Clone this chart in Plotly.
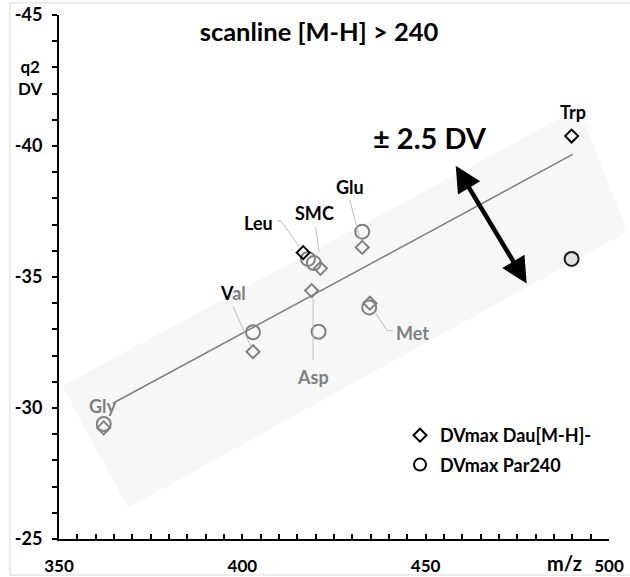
import plotly.graph_objects as go

# ---------------- data ----------------
amino = ["Gly", "Val", "Asp", "Leu", "SMC", "Glu", "Met", "Trp"]
mz_dau = [362.2, 402.9, 418.9, 416.6, 421.3, 432.7, 434.8, 489.8]
dv_dau = [-29.24, -32.15, -34.48, -35.93, -35.33, -36.13, -34.00, -40.38]
mz_par = [362.2, 402.9, 420.8, 417.9, 419.5, 432.7, 434.6, 489.8]
dv_par = [-29.39, -32.89, -32.91, -35.69, -35.53, -36.73, -33.84, -35.69]

trend_x = [364.7, 490.1]
trend_y = [-30.18, -39.68]

x_ticks = [350, 400, 450, 500]
x_tick_text = ["350", "400", "450", "500"]
y_ticks = [-45, -40, -35, -30, -25]
y_tick_text = ["-45", "-40", "-35", "-30", "-25"]

# ---------------- styles ----------------
GRAY = "#808080"
FONT = "Lato"
dau_line = [GRAY, GRAY, GRAY, "#000000", GRAY, GRAY, GRAY, "#000000"]
par_line = [GRAY] * 7 + ["#1a1a1a"]
par_fill = ["rgba(0,0,0,0)"] * 7 + ["#e0e0e0"]

XR = [350, 500]
YR = [-25, -45]


def to_paper(x, y):
    return (x - XR[0]) / (XR[1] - XR[0]), (y - YR[0]) / (YR[1] - YR[0])


fig = go.Figure()

fig.add_trace(go.Scatter(x=trend_x, y=trend_y, mode="lines",
                         line=dict(color="#7f7f7f", width=1.5),
                         showlegend=False, hoverinfo="skip"))
fig.add_trace(go.Scatter(x=mz_par, y=dv_par, mode="markers", text=amino,
                         name="DVmax Par240", showlegend=False,
                         marker=dict(symbol="circle", size=14, color=par_fill,
                                     line=dict(color=par_line, width=2))))
fig.add_trace(go.Scatter(x=mz_dau, y=dv_dau, mode="markers", text=amino,
                         name="DVmax Dau[M-H]-", showlegend=False,
                         marker=dict(symbol="diamond", size=10, color="rgba(0,0,0,0)",
                                     line=dict(color=dau_line, width=2))))
# legend entries
fig.add_trace(go.Scatter(x=[None], y=[None], mode="markers", name="DVmax Dau[M-H]-",
                         legendgroup="a",
                         marker=dict(symbol="diamond", size=10, color="white",
                                     line=dict(color="black", width=2))))
fig.add_trace(go.Scatter(x=[None], y=[None], mode="markers", name="DVmax Par240",
                         legendgroup="b",
                         marker=dict(symbol="circle", size=12, color="white",
                                     line=dict(color="black", width=2))))

shapes = []
# light band +-2.5 DV
band = [(350.9, -30.84), (368.8, -26.19), (505.0, -36.73), (491.7, -41.44)]
pts = [to_paper(*p) for p in band]
path = "M " + " L ".join(f"{px:.4f},{py:.4f}" for px, py in pts) + " Z"
shapes.append(dict(type="path", path=path, xref="paper", yref="paper",
                   fillcolor="#f7f7f7", line=dict(width=0), layer="below"))

# leader lines (label -> marker)
leaders = [
    [(397.5, -33.87), (402.5, -32.28)],                   # Val
    [(419.3, -34.24), (419.3, -31.83)],                   # Asp
    [(436.1, -33.68), (439.5, -32.95), (441.0, -32.95)],  # Met
    [(409.5, -37.14), (410.5, -37.14), (415.7, -36.13)],  # Leu
    [(420.0, -36.92), (420.9, -35.97)],                   # SMC
    [(429.3, -37.94), (432.0, -36.48)],                   # Glu
]
for ld in leaders:
    p = "M " + " L ".join(f"{x},{y}" for x, y in ld)
    shapes.append(dict(type="path", path=p, xref="x", yref="y",
                       line=dict(color="#bfbfbf", width=1)))

# outer frame
L, R, T, B = 59, 21, 15, 38
W, H = 630, 577
pw, ph = W - L - R, H - T - B
def pxp(px, py):
    return (px - L) / pw, (H - B - py) / ph
fx0, fy0 = pxp(10, 575)
fx1, fy1 = pxp(640, 3)
shapes.append(dict(type="rect", xref="paper", yref="paper", x0=fx0, y0=fy0,
                   x1=fx1, y1=fy1, line=dict(color="#d9d9d9", width=1),
                   fillcolor="rgba(0,0,0,0)", layer="below"))

annotations = []
labels = [
    ("Gly", 361.9, -30.09, GRAY),
    ("<span style='color:black'>V</span>al", 397.4, -34.39, GRAY),
    ("Asp", 419.2, -31.20, GRAY),
    ("Met", 446.3, -32.85, GRAY),
    ("Leu", 404.3, -37.05, "black"),
    ("SMC", 419.8, -37.43, "black"),
    ("Glu", 429.3, -38.45, "black"),
    ("Trp", 490.2, -41.31, "black"),
]
for t, x, y, c in labels:
    annotations.append(dict(x=x, y=y, xref="x", yref="y", text=t, showarrow=False,
                            xanchor="center", yanchor="middle",
                            font=dict(family=FONT, size=18, color=c, weight="bold")))

annotations.append(dict(x=451.1, y=-40.31, xref="x", yref="y", text="± 2.5 DV",
                        showarrow=False, xanchor="center", yanchor="middle",
                        font=dict(family=FONT, size=29, color="black", weight="bold")))
annotations.append(dict(x=458.2, y=-39.25, ax=477.8, ay=-34.69, xref="x", yref="y",
                        axref="x", ayref="y", text="", showarrow=True,
                        arrowside="end+start", arrowhead=2, startarrowhead=2,
                        arrowsize=1.15, startarrowsize=1.15, arrowwidth=4.5,
                        arrowcolor="black", standoff=0, startstandoff=0))

qx, qy = pxp(30, 77)
annotations.append(dict(x=qx, y=qy, xref="paper", yref="paper", text="q2<br>DV",
                        showarrow=False, xanchor="center", yanchor="middle",
                        font=dict(family=FONT, size=17, color="black", weight="bold")))
mx, my = pxp(564, 563)
annotations.append(dict(x=mx, y=my, xref="paper", yref="paper", text="m/z",
                        showarrow=False, xanchor="center", yanchor="middle",
                        font=dict(family=FONT, size=20, color="black", weight="bold")))

lx, ly = pxp(400, 417)
tx, _ = pxp(319, 0)
fig.update_layout(
    width=W, height=H,
    margin=dict(l=L, r=R, t=T, b=B, autoexpand=False),
    paper_bgcolor="white", plot_bgcolor="rgba(0,0,0,0)",
    title=dict(text="scanline [M-H] > 240", x=tx, xref="paper", xanchor="center",
               y=1 - 32 / H, yref="container", yanchor="middle",
               font=dict(family=FONT, size=25.5, color="black", weight="bold")),
    shapes=shapes, annotations=annotations,
    legend=dict(x=lx, y=ly, xanchor="left", yanchor="top", bgcolor="rgba(0,0,0,0)",
                tracegroupgap=3, itemwidth=30,
                font=dict(family=FONT, size=18, color="black", weight="bold")),
    xaxis=dict(range=XR, tickvals=x_ticks, ticktext=x_tick_text, showgrid=False,
               zeroline=False, showline=True, linecolor="black", linewidth=2,
               ticks="inside", ticklen=5, tickwidth=1.5, tickcolor="black",
               ticklabelstandoff=11,
               minor=dict(dtick=5, ticks="inside", ticklen=5, tickwidth=1.5,
                          tickcolor="black"),
               tickfont=dict(family=FONT, size=17, color="black", weight="bold")),
    yaxis=dict(range=YR, tickvals=y_ticks, ticktext=y_tick_text, showgrid=False,
               zeroline=False, showline=True, linecolor="black", linewidth=2,
               ticks="outside", ticklen=5, tickwidth=1.5, tickcolor="black",
               ticklabelstandoff=6,
               minor=dict(dtick=1, ticks="outside", ticklen=5, tickwidth=1.5,
                          tickcolor="black"),
               tickfont=dict(family=FONT, size=18, color="black", weight="bold")),
)

fig.write_html("out.html", config={"displayModeBar": False},
               post_script="document.body.style.margin='0';document.body.style.overflow='hidden';")
